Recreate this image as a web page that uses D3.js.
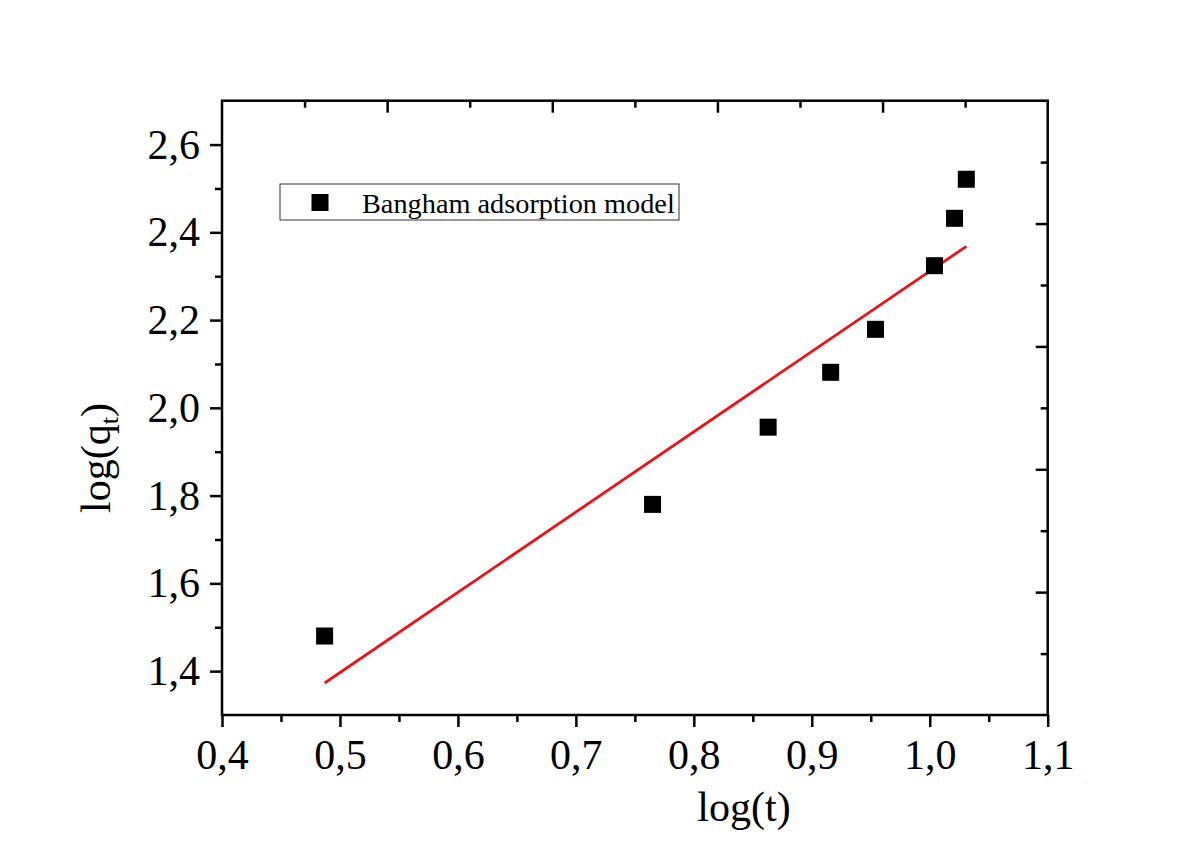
<!DOCTYPE html>
<meta charset="utf-8">
<style>
  body { margin: 0; background: #fff; }
  text { font-family: "Liberation Serif", "Times New Roman", serif; fill: #000; }
</style>
<svg id="chart" width="1201" height="851"></svg>
<script src="https://d3js.org/d3.v7.min.js"></script>
<script>

// data
var logT = [0.487, 0.765, 0.863, 0.916, 0.954, 1.004, 1.021, 1.031];
var logQ = [1.480, 1.780, 1.956, 2.081, 2.179, 2.324, 2.432, 2.521];

// end points of the linear fit (red line)
var fitX = [0.487, 1.031];
var fitY = [1.373, 2.368];

var xMajor = [0.4, 0.5, 0.6, 0.7, 0.8, 0.9, 1.0, 1.1];
var xLabels = ["0,4", "0,5", "0,6", "0,7", "0,8", "0,9", "1,0", "1,1"];
var xMinor = [0.45, 0.55, 0.65, 0.75, 0.85, 0.95, 1.05];

var yMajor = [1.4, 1.6, 1.8, 2.0, 2.2, 2.4, 2.6];
var yLabels = ["1,4", "1,6", "1,8", "2,0", "2,2", "2,4", "2,6"];
var yMinor = [1.5, 1.7, 1.9, 2.1, 2.3, 2.5];

// opposite axes (top / right) are split in ten, every second one long
var frameTicks = [1, 2, 3, 4, 5, 6, 7, 8, 9];

var legendLabel = "Bangham adsorption model";

var svg = d3.select("#chart"),
    margin = {top: 100.7, right: 153.3, bottom: 136, left: 222},
    width = +svg.attr("width") - margin.left - margin.right,
    height = +svg.attr("height") - margin.top - margin.bottom,
    g = svg.append("g").attr("transform", "translate(" + margin.left + "," + margin.top + ")");

var x = d3.scaleLinear().domain([0.4, 1.1]).range([0, width]);
var y = d3.scaleLinear().domain([1.3, 2.7]).range([height, 0]);
var fx = d3.scaleLinear().domain([0, 10]).range([0, width]);
var fy = d3.scaleLinear().domain([0, 10]).range([height, 0]);

var majorLen = 12, minorLen = 7, axisW = 2.5;

function styleAxis(sel) {
  sel.select(".domain").remove();
  sel.selectAll(".tick line").attr("stroke", "#000").attr("stroke-width", axisW);
  sel.selectAll(".tick text")
      .style("font-family", "'Liberation Serif', 'Times New Roman', serif")
      .style("font-size", "42px")
      .attr("fill", "#000");
}

// bottom axis
g.append("g")
    .attr("transform", "translate(0," + height + ")")
    .call(d3.axisBottom(x).tickValues(xMajor).tickSize(majorLen).tickPadding(12)
      .tickFormat(function(d, i) { return xLabels[i]; }))
    .call(styleAxis);
g.append("g")
    .attr("transform", "translate(0," + height + ")")
    .call(d3.axisBottom(x).tickValues(xMinor).tickSize(minorLen).tickFormat(""))
    .call(styleAxis);

// left axis
g.append("g")
    .call(d3.axisLeft(y).tickValues(yMajor).tickSize(majorLen).tickPadding(10)
      .tickFormat(function(d, i) { return yLabels[i]; }))
    .call(styleAxis);
g.append("g")
    .call(d3.axisLeft(y).tickValues(yMinor).tickSize(minorLen).tickFormat(""))
    .call(styleAxis);

// top axis, ticks inward
g.append("g")
    .call(d3.axisBottom(fx).tickValues(frameTicks).tickFormat("")
      .tickSizeInner(0).tickSizeOuter(0))
    .call(styleAxis)
    .selectAll(".tick line")
    .attr("y2", function(d) { return d % 2 === 0 ? majorLen : minorLen; });

// right axis, ticks inward
g.append("g")
    .attr("transform", "translate(" + width + ",0)")
    .call(d3.axisLeft(fy).tickValues(frameTicks).tickFormat("")
      .tickSizeInner(0).tickSizeOuter(0))
    .call(styleAxis)
    .selectAll(".tick line")
    .attr("x2", function(d) { return d % 2 === 0 ? -majorLen : -minorLen; });

// frame
g.append("rect")
    .attr("width", width)
    .attr("height", height)
    .attr("fill", "none")
    .attr("stroke", "#000")
    .attr("stroke-width", axisW);

// fit line
var fitData = fitX.map(function(d, i) { return [d, fitY[i]]; });
g.append("path")
    .datum(fitData)
    .attr("fill", "none")
    .attr("stroke", "#e8141a")
    .attr("stroke-width", 2.8)
    .attr("d", d3.line()
      .x(function(d) { return x(d[0]); })
      .y(function(d) { return y(d[1]); }));

// points
var sq = 17;
var pts = logT.map(function(d, i) { return [d, logQ[i]]; });
g.selectAll(".pt")
    .data(pts)
  .enter().append("rect")
    .attr("class", "pt")
    .attr("x", function(d) { return x(d[0]) - sq / 2; })
    .attr("y", function(d) { return y(d[1]) - sq / 2; })
    .attr("width", sq)
    .attr("height", sq)
    .attr("fill", "#000");

// legend
var lg = svg.append("g").attr("transform", "translate(280,184)");
lg.append("rect")
    .attr("width", 399)
    .attr("height", 36)
    .attr("fill", "#fff")
    .attr("stroke", "#333")
    .attr("stroke-width", 1);
lg.append("rect")
    .attr("x", 40 - sq / 2)
    .attr("y", 18.5 - sq / 2)
    .attr("width", sq)
    .attr("height", sq)
    .attr("fill", "#000");
lg.append("text")
    .attr("x", 82)
    .attr("y", 28.5)
    .style("font-size", "28.3px")
    .text(legendLabel);

// axis titles
svg.append("text")
    .attr("x", 744)
    .attr("y", 821)
    .attr("text-anchor", "middle")
    .style("font-size", "42px")
    .text("log(t)");

var yt = svg.append("text")
    .attr("transform", "translate(110,458) rotate(-90)")
    .attr("text-anchor", "middle")
    .style("font-size", "42px");
yt.append("tspan").text("log(q");
yt.append("tspan").attr("dy", 8).style("font-size", "26px").text("t");
yt.append("tspan").attr("dy", -8).text(")");

</script>
